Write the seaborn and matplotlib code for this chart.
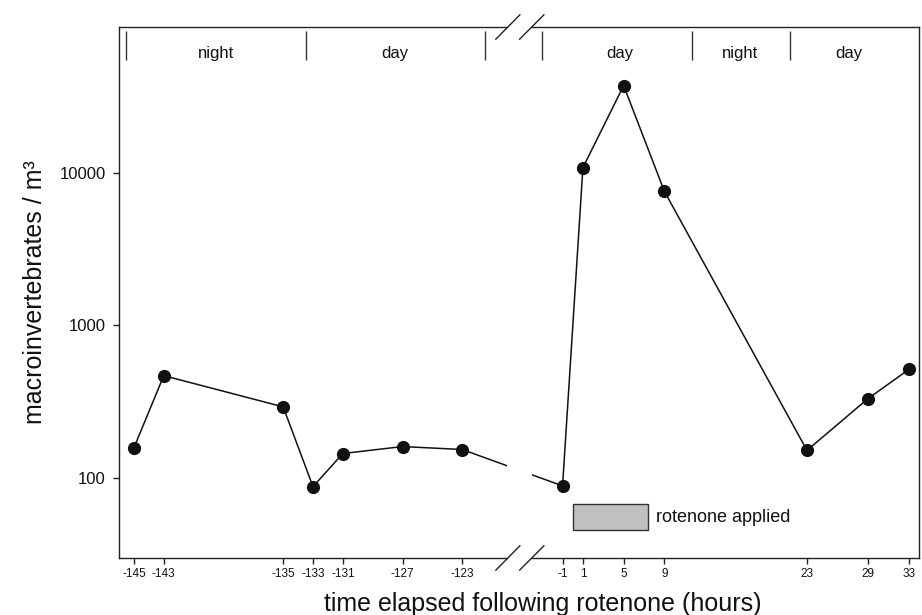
import matplotlib
matplotlib.use("Agg")
import matplotlib.pyplot as plt
import matplotlib.transforms as mtransforms
from matplotlib.patches import Rectangle
from matplotlib.lines import Line2D
import seaborn as sns
import numpy as np

# ---- data ----
left_hours = [-145, -143, -135, -133, -131, -127, -123]
left_counts = [158, 469, 293, 88, 145, 161, 154]
right_hours = [-1, 1, 5, 9, 23, 29, 33]
right_counts = [89, 10800, 37200, 7550, 152, 332, 515]

left_ticks = [-145, -143, -135, -133, -131, -127, -123]
right_ticks = [-1, 1, 5, 9, 23, 29, 33]
y_ticks = [100, 1000, 10000]

left_bounds = [-145.5, -133.5, -121.5]
right_bounds = [-3, 11.7, 21.3]
left_period_names = ["night", "day"]
left_period_pos = [-139.5, -127.5]
right_period_names = ["day", "night", "day"]
right_period_pos = [4.6, 16.4, 27.1]

rotenone_start = 0.0
rotenone_end = 7.4
rotenone_box_y = [45.6, 67.3]
rotenone_label = "rotenone applied"

# ---- style ----
sns.set_style("ticks")
plt.rcParams["font.family"] = ["Liberation Sans", "DejaVu Sans"]
plt.rcParams["axes.linewidth"] = 1.0
plt.rcParams["axes.edgecolor"] = "#222222"

fig = plt.figure(figsize=(9.22, 6.15), dpi=100)
W, H = 922.0, 615.0
ax_top, ax_bot = 27.0, 558.0
lx0, lx1 = 119.0, 507.0
rx0, rx1 = 532.0, 919.0

ax_l = fig.add_axes([lx0 / W, 1 - ax_bot / H, (lx1 - lx0) / W, (ax_bot - ax_top) / H])
ax_r = fig.add_axes([rx0 / W, 1 - ax_bot / H, (rx1 - rx0) / W, (ax_bot - ax_top) / H])

ylim = (30, 90000)
for ax in (ax_l, ax_r):
    ax.set_yscale("log")
    ax.set_ylim(*ylim)
    ax.set_facecolor("white")
ax_l.set_xlim(-146, -120)
ax_r.set_xlim(-4, 34)

line_kw = dict(color="#111111", linewidth=1.1)
sns.lineplot(x=left_hours, y=left_counts, ax=ax_l, marker="o", markersize=9.5,
             markeredgewidth=0, sort=False, **line_kw)
sns.lineplot(x=right_hours, y=right_counts, ax=ax_r, marker="o", markersize=9.5,
             markeredgewidth=0, sort=False, **line_kw)

# connection across the break (clipped by each axes)
p_right_disp = ax_r.transData.transform((right_hours[0], right_counts[0]))
p_right_in_left = ax_l.transData.inverted().transform(p_right_disp)
ax_l.plot([left_hours[-1], p_right_in_left[0]], [left_counts[-1], p_right_in_left[1]],
          zorder=1, **line_kw)
p_left_disp = ax_l.transData.transform((left_hours[-1], left_counts[-1]))
p_left_in_right = ax_r.transData.inverted().transform(p_left_disp)
ax_r.plot([p_left_in_right[0], right_hours[0]], [p_left_in_right[1], right_counts[0]],
          zorder=1, **line_kw)
ax_l.set_xlim(-146, -120)
ax_r.set_xlim(-4, 34)
for ax in (ax_l, ax_r):
    ax.set_ylim(*ylim)

# spines
ax_l.spines["right"].set_visible(False)
ax_r.spines["left"].set_visible(False)
for ax in (ax_l, ax_r):
    for s in ax.spines.values():
        s.set_linewidth(1.0)
        s.set_color("#222222")

# ticks
ax_l.set_xticks(left_ticks)
ax_l.set_xticklabels([str(t) for t in left_ticks])
ax_r.set_xticks(right_ticks)
ax_r.set_xticklabels([str(t) for t in right_ticks])
ax_l.set_yticks(y_ticks)
ax_l.set_yticklabels([str(t) for t in y_ticks])
ax_l.yaxis.set_minor_locator(matplotlib.ticker.NullLocator())
ax_r.yaxis.set_minor_locator(matplotlib.ticker.NullLocator())
ax_r.set_yticks([])
for ax in (ax_l, ax_r):
    ax.tick_params(axis="x", direction="out", length=4.5, width=1.0, pad=3,
                   labelsize=8.5, colors="#222222", labelcolor="#111111")
ax_l.tick_params(axis="y", direction="out", length=4.5, width=1.0, pad=5,
                 labelsize=12, colors="#222222", labelcolor="#111111")
ax_r.tick_params(axis="y", left=False, labelleft=False)

ax_l.set_xlabel("")
ax_r.set_xlabel("")
ax_l.set_ylabel("macroinvertebrates / m\u00b3", fontsize=18, labelpad=9, color="#111111")
ax_r.set_ylabel("")
fig.text(543 / W, 1 - 604 / H, "time elapsed following rotenone (hours)",
         ha="center", va="center", fontsize=18, color="#111111")

# day/night separators and labels
for ax, bounds, names, pos in ((ax_l, left_bounds, left_period_names, left_period_pos),
                               (ax_r, right_bounds, right_period_names, right_period_pos)):
    trans = mtransforms.blended_transform_factory(ax.transData, ax.transAxes)
    ax.vlines(bounds, 0.938, 0.993, transform=trans, color="#333333", linewidth=1.0)
    for name, p in zip(names, pos):
        ax.text(p, 0.951, name, transform=trans, ha="center", va="center",
                fontsize=12, color="#111111")

# rotenone applied box
ax_r.add_patch(Rectangle((rotenone_start, rotenone_box_y[0]), rotenone_end - rotenone_start,
                         rotenone_box_y[1] - rotenone_box_y[0], facecolor="#c0c0c0",
                         edgecolor="#333333", linewidth=1.0, zorder=2))
ax_r.text(rotenone_end + 0.8, np.sqrt(rotenone_box_y[0] * rotenone_box_y[1]), rotenone_label,
          ha="left", va="center", fontsize=13, color="#111111")

# break marks
def px_line(x0, y0, x1, y1):
    fig.add_artist(Line2D([x0 / W, x1 / W], [1 - y0 / H, 1 - y1 / H],
                          transform=fig.transFigure, color="#222222", linewidth=1.0))

for yb in (ax_top, ax_bot):
    px_line(495.7, yb + 12.3, 520.0, yb - 12.3)
    px_line(519.5, yb + 12.3, 544.0, yb - 12.3)

fig.savefig("out.png", dpi=100, facecolor="white")
